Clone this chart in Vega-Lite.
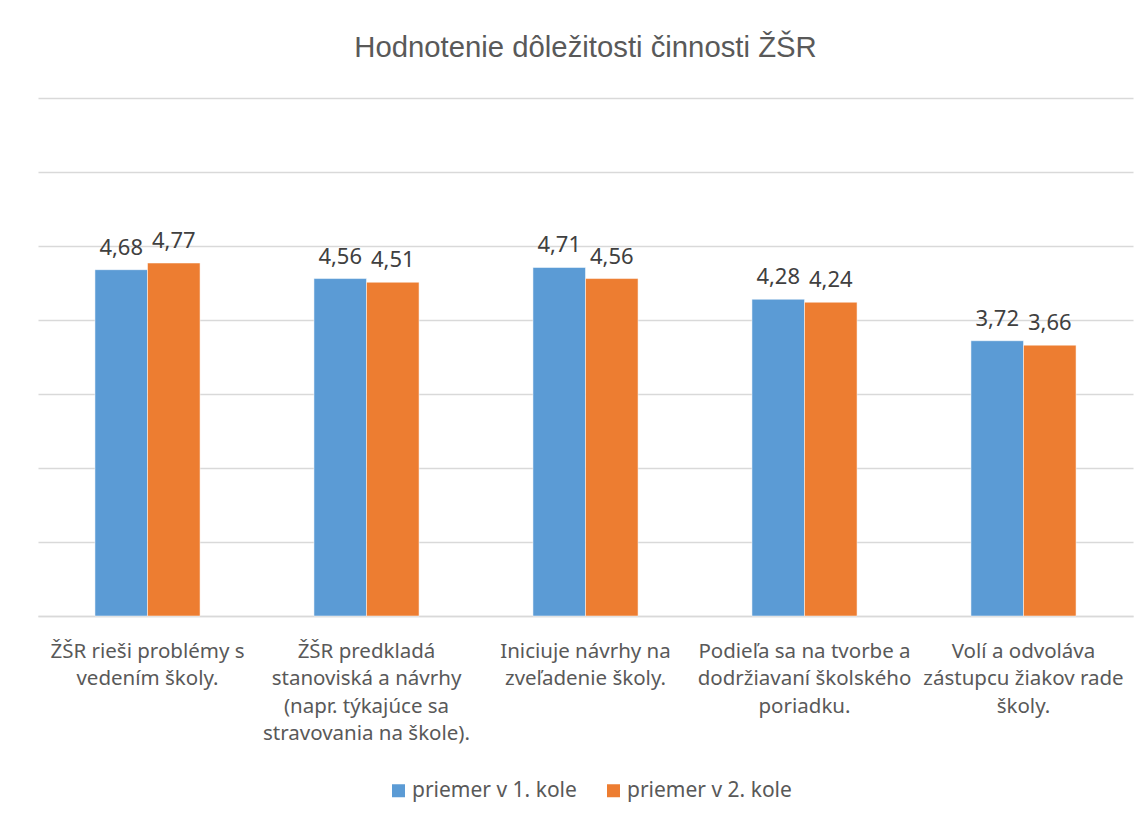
{
  "$schema": "https://vega.github.io/schema/vega-lite/v6.json",
  "width": 1095,
  "height": 518,
  "autosize": {"type": "none"},
  "padding": {"left": 38, "top": 98, "right": 14, "bottom": 204},
  "background": "white",
  "title": {
    "text": "Hodnotenie dôležitosti činnosti ŽŠR",
    "font": "Liberation Sans",
    "fontSize": 29.3,
    "fontWeight": "normal",
    "color": "#595959",
    "anchor": "middle",
    "offset": 35
  },
  "config": {
    "view": {"stroke": null},
    "font": "Noto Sans",
    "locale": {
      "number": {"decimal": ",", "thousands": " ", "grouping": [3], "currency": ["", " €"]}
    }
  },
  "data": {
    "values": [
      {"cat": "ŽŠR rieši problémy s\nvedením školy.", "ord": 1, "series": "priemer v 1. kole", "value": 4.68},
      {"cat": "ŽŠR rieši problémy s\nvedením školy.", "ord": 1, "series": "priemer v 2. kole", "value": 4.77},
      {"cat": "ŽŠR predkladá\nstanoviská a návrhy\n(napr. týkajúce sa\nstravovania na škole).", "ord": 2, "series": "priemer v 1. kole", "value": 4.56},
      {"cat": "ŽŠR predkladá\nstanoviská a návrhy\n(napr. týkajúce sa\nstravovania na škole).", "ord": 2, "series": "priemer v 2. kole", "value": 4.51},
      {"cat": "Iniciuje návrhy na\nzveľadenie školy.", "ord": 3, "series": "priemer v 1. kole", "value": 4.71},
      {"cat": "Iniciuje návrhy na\nzveľadenie školy.", "ord": 3, "series": "priemer v 2. kole", "value": 4.56},
      {"cat": "Podieľa sa na tvorbe a\ndodržiavaní školského\nporiadku.", "ord": 4, "series": "priemer v 1. kole", "value": 4.28},
      {"cat": "Podieľa sa na tvorbe a\ndodržiavaní školského\nporiadku.", "ord": 4, "series": "priemer v 2. kole", "value": 4.24},
      {"cat": "Volí a odvoláva\nzástupcu žiakov rade\nškoly.", "ord": 5, "series": "priemer v 1. kole", "value": 3.72},
      {"cat": "Volí a odvoláva\nzástupcu žiakov rade\nškoly.", "ord": 5, "series": "priemer v 2. kole", "value": 3.66}
    ]
  },
  "encoding": {
    "x": {
      "field": "cat",
      "type": "nominal",
      "sort": {"field": "ord"},
      "scale": {"paddingInner": 0.52, "paddingOuter": 0.26},
      "axis": {
        "title": null,
        "labelAngle": 0,
        "labelExpr": "split(datum.value, '\\n')",
        "labelFontSize": 20.5,
        "labelColor": "#595959",
        "labelLineHeight": 27.5,
        "labelPadding": 25,
        "labelLimit": 300,
        "ticks": false,
        "domainColor": "#d9d9d9",
        "domainWidth": 1.5
      }
    },
    "xOffset": {"field": "series", "type": "nominal", "scale": {"paddingInner": 0}},
    "y": {
      "field": "value",
      "type": "quantitative",
      "scale": {"domain": [0, 7], "nice": false},
      "axis": {
        "title": null,
        "labels": false,
        "ticks": false,
        "domain": false,
        "values": [0, 1, 2, 3, 4, 5, 6, 7],
        "gridColor": "#d9d9d9",
        "gridWidth": 1.5
      }
    }
  },
  "layer": [
    {
      "mark": {"type": "bar", "stroke": "white", "strokeWidth": 0.5},
      "encoding": {
        "color": {
          "field": "series",
          "type": "nominal",
          "scale": {"range": ["#5B9BD5", "#ED7D31"]},
          "legend": {
            "title": null,
            "orient": "none",
            "direction": "horizontal",
            "legendX": 350,
            "legendY": 682,
            "symbolType": "square",
            "symbolSize": 169,
            "symbolStrokeWidth": 0,
            "labelFontSize": 21,
            "labelLimit": 400,
            "labelColor": "#595959",
            "labelOffset": 3,
            "columnPadding": 26
          }
        }
      }
    },
    {
      "mark": {"type": "text", "baseline": "bottom", "dy": -10, "fontSize": 22, "color": "#404040"},
      "encoding": {
        "text": {"field": "value", "type": "quantitative", "format": ".2f"}
      }
    }
  ]
}
